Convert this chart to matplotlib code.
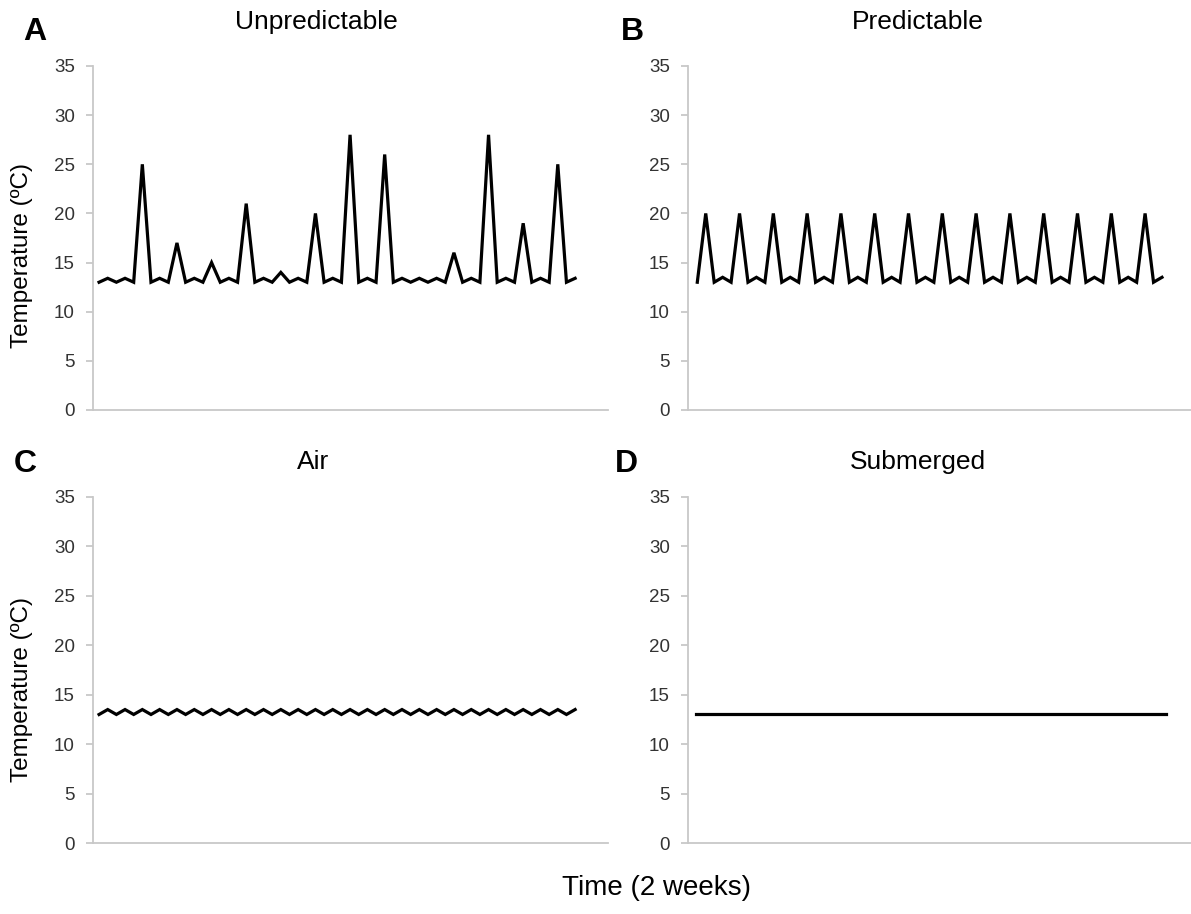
import matplotlib
matplotlib.use('Agg')
import matplotlib.pyplot as plt

plt.rcParams['font.family'] = ['Liberation Sans', 'DejaVu Sans']

# 56 readings over two weeks (4 per day)
unpredictable = [13, 13.4, 13, 13.4, 13, 25, 13, 13.4, 13, 17, 13, 13.4, 13, 15,
                 13, 13.4, 13, 21, 13, 13.4, 13, 14, 13, 13.4, 13, 20, 13, 13.4,
                 13, 28, 13, 13.4, 13, 26, 13, 13.4, 13, 13.4, 13, 13.4, 13, 16,
                 13, 13.4, 13, 28, 13, 13.4, 13, 19, 13, 13.4, 13, 25, 13, 13.4]
predictable = [13, 20, 13, 13.5] * 14
air = [13, 13.5] * 28
submerged = [13] * 56

titles = ['Unpredictable', 'Predictable', 'Air', 'Submerged']
letters = ['A', 'B', 'C', 'D']
series = [unpredictable, predictable, air, submerged]
yticks = [0, 5, 10, 15, 20, 25, 30, 35]

W, H = 1191, 914
fig = plt.figure(figsize=(W / 100, H / 100), dpi=100)

# axes boxes in pixels: left, right, bottom (y=0), top (y=35)
boxes = [(93, 608, 410, 66), (688, 1200, 410, 66),
         (93, 608, 843, 497), (688, 1200, 843, 497)]
xlims = [(-0.7, 58.8), (-1.1, 59.5), (-0.7, 58.8), (-0.9, 59.0)]
title_pos = [(316, 22), (918, 22), (313, 462), (918, 462)]
letter_pos = [(35, 32), (632, 32), (25, 464), (626, 464)]

for i in range(4):
    l, r, b, t = boxes[i]
    ax = fig.add_axes([l / W, 1 - b / H, (r - l) / W, (b - t) / H])
    ax.plot(range(len(series[i])), series[i], color='black', lw=2.3,
            solid_joinstyle='miter')
    ax.set_ylim(0, 35)
    ax.set_xlim(*xlims[i])
    ax.set_yticks(yticks)
    ax.set_xticks([])
    for s in ['top', 'right']:
        ax.spines[s].set_visible(False)
    for s in ['left', 'bottom']:
        ax.spines[s].set_color('#c8c8c8')
        ax.spines[s].set_linewidth(1.3)
    ax.tick_params(axis='y', length=5, width=1.3, color='#c8c8c8', pad=8,
                   labelsize=13.5, labelcolor='#333333')
    fig.text(title_pos[i][0] / W, 1 - title_pos[i][1] / H, titles[i],
             ha='center', va='center', fontsize=19)
    fig.text(letter_pos[i][0] / W, 1 - letter_pos[i][1] / H, letters[i],
             ha='center', va='center', fontsize=23, fontweight='bold')

fig.text(22 / W, 1 - 255 / H, 'Temperature (ºC)', rotation=90,
         ha='center', va='center', fontsize=17.5)
fig.text(22 / W, 1 - 690 / H, 'Temperature (ºC)', rotation=90,
         ha='center', va='center', fontsize=17.5)
fig.text(657 / W, 1 - 888 / H, 'Time (2 weeks)', ha='center', va='center',
         fontsize=20)

fig.savefig('out.png', dpi=100)
